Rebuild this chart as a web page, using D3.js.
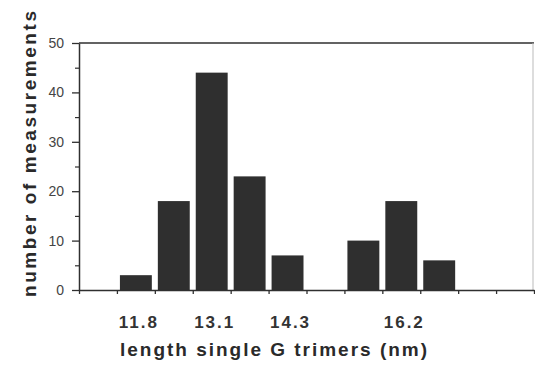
<!DOCTYPE html>
<html>
<head>
<meta charset="utf-8">
<script src="https://cdn.jsdelivr.net/npm/d3@7"></script>
<style>
  body { margin: 0; background: #fff; }
  svg { display: block; }
</style>
</head>
<body>
<div id="chart"></div>
<script>
// histogram bins (one per tick slot on the x axis), left to right
const binLabels = ['', '11.8', '', '13.1', '', '14.3', '', '', '16.2', '', '', ''];
const counts = [0, 3, 18, 44, 23, 7, 0, 10, 18, 6, 0, 0];
const yMajorTicks = [0, 10, 20, 30, 40, 50];
const yMinorTicks = [5, 15, 25, 35, 45];

const width = 535, height = 366;
const margin = { top: 43, right: 1, bottom: 76, left: 79 };
const font = '"Liberation Sans", Arial, sans-serif';

const svg = d3.select('#chart').append('svg')
  .attr('width', width)
  .attr('height', height);

// bin edges
const x = d3.scaleLinear()
  .domain([0, counts.length])
  .range([margin.left, width - margin.right]);

const y = d3.scaleLinear()
  .domain([0, 50])
  .range([height - margin.bottom, margin.top]);

const ink = '#2f2f2f';
const gap = 3;

// Bars
svg.selectAll('.bar')
  .data(counts.map((c, i) => ({ c, i })).filter(d => d.c > 0))
  .enter()
  .append('rect')
  .attr('class', 'bar')
  .attr('x', d => x(d.i) + gap)
  .attr('y', d => y(d.c))
  .attr('width', d => x(d.i + 1) - x(d.i) - 2 * gap)
  .attr('height', d => y(0) - y(d.c))
  .attr('fill', ink);

// frame: top and right lines
svg.append('line')
  .attr('x1', x(0)).attr('x2', x(counts.length))
  .attr('y1', y(50)).attr('y2', y(50))
  .attr('stroke', ink).attr('stroke-width', 1.5);
svg.append('line')
  .attr('x1', x(counts.length) - 1).attr('x2', x(counts.length) - 1)
  .attr('y1', y(50)).attr('y2', y(0))
  .attr('stroke', '#bbb').attr('stroke-width', 1);

// Y axis, major + minor ticks
const yAxis = svg.append('g')
  .attr('transform', `translate(${margin.left},0)`)
  .call(d3.axisLeft(y).tickValues(yMajorTicks).tickSize(7).tickSizeOuter(0).tickPadding(8));
yAxis.select('.domain').attr('stroke', ink).attr('stroke-width', 1.5);
yAxis.selectAll('.tick line').attr('stroke', ink).attr('stroke-width', 1.3);
yAxis.selectAll('.tick text')
  .attr('fill', '#444')
  .style('font-family', font)
  .style('font-size', '14px');

svg.append('g')
  .attr('transform', `translate(${margin.left},0)`)
  .call(d3.axisLeft(y).tickValues(yMinorTicks).tickSize(4).tickFormat(''))
  .call(g => g.select('.domain').remove())
  .selectAll('.tick line').attr('stroke', ink).attr('stroke-width', 1.2);

// X axis: ticks at every bin edge, labels at bin centres
const xAxis = svg.append('g')
  .attr('transform', `translate(0,${y(0)})`)
  .call(d3.axisBottom(x).tickValues(d3.range(counts.length + 1)).tickSize(4).tickSizeOuter(0).tickFormat(''));
xAxis.select('.domain').attr('stroke', ink).attr('stroke-width', 1.5);
xAxis.selectAll('.tick line').attr('stroke', ink).attr('stroke-width', 1.3);

svg.selectAll('.xlabel')
  .data(binLabels.map((t, i) => ({ t, i })).filter(d => d.t))
  .enter()
  .append('text')
  .attr('class', 'xlabel')
  .attr('x', d => x(d.i + 0.5) + 3)
  .attr('y', y(0) + 38)
  .attr('text-anchor', 'middle')
  .attr('fill', '#333')
  .style('font-family', font)
  .style('font-size', '17px')
  .style('font-weight', 'bold')
  .style('letter-spacing', '2px')
  .text(d => d.t);

// Axis titles
svg.append('text')
  .attr('x', 120)
  .attr('y', 356)
  .attr('textLength', 307)
  .attr('lengthAdjust', 'spacing')
  .attr('fill', '#2a2a2a')
  .style('font-family', font)
  .style('font-size', '19px')
  .style('font-weight', 'bold')
  .text('length single G trimers (nm)');

svg.append('text')
  .attr('transform', 'translate(36,297) rotate(-90)')
  .attr('textLength', 286)
  .attr('lengthAdjust', 'spacing')
  .attr('fill', '#2a2a2a')
  .style('font-family', font)
  .style('font-size', '19px')
  .style('font-weight', 'bold')
  .text('number of measurements');
</script>
</body>
</html>
